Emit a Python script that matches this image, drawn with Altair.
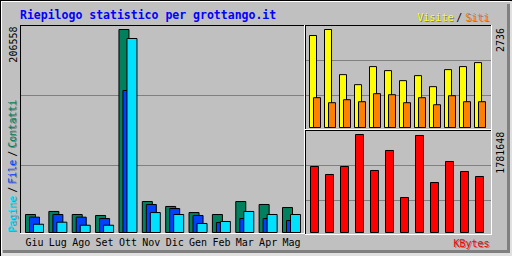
import altair as alt
import pandas as pd

months = ["Giu", "Lug", "Ago", "Set", "Ott", "Nov", "Dic", "Gen", "Feb", "Mar", "Apr", "Mag"]
contatti = [18300, 21400, 18300, 17300, 206558, 31500, 26500, 20300, 18300, 31500, 28500, 25400]
files = [15600, 18300, 15600, 14200, 144500, 28500, 24400, 17300, 10200, 14200, 14200, 12200]
pagine = [8400, 10500, 7400, 7400, 197400, 20300, 18300, 9200, 11200, 21400, 18300, 18300]
visite = [2568, 2736, 1476, 1196, 1700, 1588, 1308, 1448, 1140, 1616, 1700, 1812]
siti = [832, 692, 776, 720, 944, 916, 692, 832, 636, 888, 720, 720]
kbytes = [1199900, 1054500, 1199900, 1781648, 1127200, 1490800, 636300, 1763500, 909000, 1290800, 1109000, 1018100]

df = pd.DataFrame({"mese": months, "contatti": contatti, "file": files, "pagine": pagine,
                   "visite": visite, "siti": siti, "kbytes": kbytes})

FONT = "DejaVu Sans Mono"
GREEN, BLUE, CYAN = "#00805C", "#0040FF", "#00E0FF"
YELLOW, ORANGE, RED = "#FFFF00", "#FF8000", "#FF0000"
GRID = "#808080"
SHADOW = "#808080"

one = pd.DataFrame({"k": [0]})


def rect(x, x2, y, y2, color):
    return alt.Chart(one).mark_rect(color=color).encode(
        x=alt.value(x), x2=alt.value(x2), y=alt.value(y), y2=alt.value(y2))


def hline(y, x, x2, color):
    return alt.Chart(one).mark_rule(color=color, strokeWidth=1).encode(
        x=alt.value(x), x2=alt.value(x2), y=alt.value(y))


def vline(x, y, y2, color):
    return alt.Chart(one).mark_rule(color=color, strokeWidth=1).encode(
        x=alt.value(x), y=alt.value(y), y2=alt.value(y2))


def label(s, x, y, color, size=10, align="left", angle=0, bold=False, shadow=False):
    layers = []
    kw = dict(font=FONT, fontSize=size, align=align, baseline="alphabetic",
              fontWeight="bold" if bold else "normal")
    if angle:
        kw["angle"] = angle
    d = pd.DataFrame({"t": [s]})
    if shadow:
        layers.append(alt.Chart(d).mark_text(color=SHADOW, **kw).encode(
            text="t:N", x=alt.value(x + 1), y=alt.value(y + 1)))
    layers.append(alt.Chart(d).mark_text(color=color, **kw).encode(
        text="t:N", x=alt.value(x), y=alt.value(y)))
    return layers


# scales
main_x = alt.X("mese:N", sort=months, axis=None,
               scale=alt.Scale(type="point", domain=months, range=[34.5, 291.5], padding=0))
side_x = alt.X("mese:N", sort=months, axis=None,
               scale=alt.Scale(type="point", domain=months, range=[315, 480], padding=0))


def main_y(field):
    return alt.Y(f"{field}:Q", axis=None,
                 scale=alt.Scale(domain=[0, max(contatti)], range=[232.5, 29.5], nice=False))


def vis_y(field):
    return alt.Y(f"{field}:Q", axis=None,
                 scale=alt.Scale(domain=[0, max(visite)], range=[127.5, 29.5], nice=False))


kb_y = alt.Y("kbytes:Q", axis=None,
             scale=alt.Scale(domain=[0, max(kbytes)], range=[232.5, 134.5], nice=False))

base = alt.Chart(df)
layers = []

# outer frame / bevel
layers += [
    rect(507, 510, 4, 253, "#808080"),
    rect(3, 510, 250, 253, "#808080"),
    rect(510, 512, 0, 256, "#E0E0E0"),
    rect(0, 512, 253, 256, "#E0E0E0"),
    hline(0.5, 0, 512, "black"),
    vline(0.5, 0, 256, "black"),
    hline(1.5, 1, 510, "white"),
    vline(1.5, 1, 253, "white"),
]

# grid lines
layers += [
    hline(95.5, 21, 304, GRID), hline(165.5, 21, 304, GRID),
    hline(60.5, 306, 491, GRID), hline(95.5, 306, 491, GRID),
    hline(165.5, 306, 491, GRID), hline(200.5, 306, 491, GRID),
]

# main bars
layers += [
    base.mark_bar(width=10, xOffset=-4, color=GREEN, stroke="black", strokeWidth=1).encode(
        x=main_x, y=main_y("contatti")),
    base.mark_bar(width=10, xOffset=0, color=BLUE, stroke="black", strokeWidth=1).encode(
        x=main_x, y=main_y("file")),
    base.mark_bar(width=10, xOffset=4, color=CYAN, stroke="black", strokeWidth=1).encode(
        x=main_x, y=main_y("pagine")),
]

# visite / siti bars
layers += [
    base.mark_bar(width=7, xOffset=-2, color=YELLOW, stroke="black", strokeWidth=1).encode(
        x=side_x, y=vis_y("visite")),
    base.mark_bar(width=7, xOffset=2, color=ORANGE, stroke="black", strokeWidth=1).encode(
        x=side_x, y=vis_y("siti")),
]

# kbytes bars
layers += [
    base.mark_bar(width=8, xOffset=-0.5, color=RED, stroke="black", strokeWidth=1).encode(
        x=side_x, y=kb_y),
]

# panel frames
layers += [
    vline(20.5, 25, 234, "black"), hline(25.5, 20, 305, "black"),
    vline(304.5, 25, 234, "white"), hline(233.5, 20, 305, "white"),
    vline(305.5, 25, 130, "black"), hline(25.5, 305, 492, "black"),
    vline(491.5, 25, 130, "white"), hline(129.5, 305, 492, "white"),
    vline(305.5, 130, 235, "black"), hline(130.5, 305, 492, "black"),
    vline(491.5, 130, 235, "white"), hline(234.5, 305, 492, "white"),
]

# month labels
layers.append(base.mark_text(font=FONT, fontSize=10, color="black", baseline="alphabetic").encode(
    x=main_x, y=alt.value(246), text="mese:N"))

# texts
layers += label("Riepilogo statistico per grottango.it", 20, 18.5, "#0000FF", size=11.5, bold=True)
layers += label("Visite", 417.3, 20.5, YELLOW, shadow=True)
layers += label("/", 456.3, 20.5, "black")
layers += label("Siti", 465.3, 20.5, ORANGE, shadow=True)
layers += label("KBytes", 489.5, 246.5, RED, align="right", shadow=True)
layers += label(str(max(contatti)), 17, 26.5, "black", align="right", angle=270)
layers += label(str(max(visite)), 503.5, 28, "black", align="right", angle=270)
layers += label(str(max(kbytes)), 503.5, 131.7, "black", align="right", angle=270)
layers += label("Pagine", 15.5, 231.7, CYAN, angle=270, shadow=True)
layers += label("/", 15.5, 192.7, "black", angle=270)
layers += label("File", 15.5, 183.7, BLUE, angle=270, shadow=True)
layers += label("/", 15.5, 156.7, "black", angle=270)
layers += label("Contatti", 15.5, 147.7, GREEN, angle=270, shadow=True)

chart = alt.layer(*layers).resolve_scale(x="independent", y="independent").properties(
    width=512, height=256, background="#C0C0C0", padding=0,
    autosize=alt.AutoSizeParams(type="none"),
).configure_view(stroke="transparent")

chart.save("out.html", embed_options={"renderer": "svg", "actions": False})
